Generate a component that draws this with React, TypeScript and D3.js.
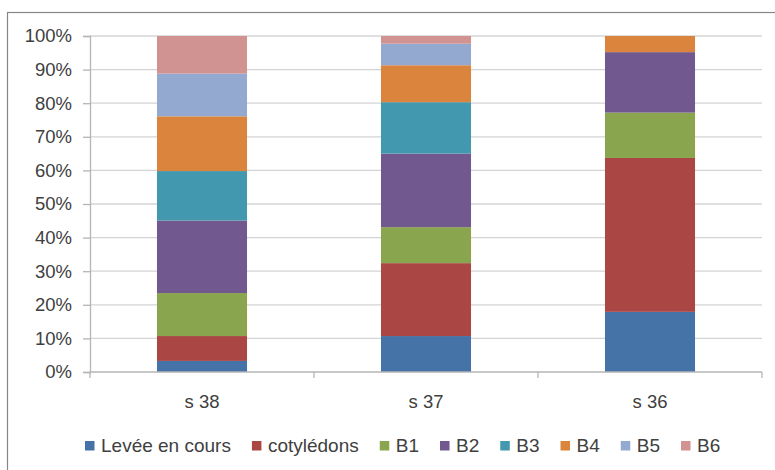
import React, { useEffect, useRef } from "react";
import * as d3 from "d3";

const categories = ["s 38", "s 37", "s 36"];
const seriesNames = ["Levée en cours", "cotylédons", "B1", "B2", "B3", "B4", "B5", "B6"];
const seriesColors = ["#4572A7", "#AA4643", "#89A54E", "#71588F", "#4198AF", "#DB843D", "#93A9CF", "#D19392"];
// values (%) per series, in category order s 38, s 37, s 36
const levee = [3.3, 10.7, 17.9];
const cotyledons = [7.4, 21.7, 45.8];
const b1 = [12.8, 10.7, 13.5];
const b2 = [21.6, 21.9, 18.0];
const b3 = [14.7, 15.3, 0];
const b4 = [16.3, 11.0, 4.8];
const b5 = [12.7, 6.4, 0];
const b6 = [11.2, 2.3, 0];
const seriesValues = [levee, cotyledons, b1, b2, b3, b4, b5, b6];
const yTicks = [0, 10, 20, 30, 40, 50, 60, 70, 80, 90, 100];

const W = 775;
const H = 470;
const FONT = "'Liberation Sans', Arial, sans-serif";

export default function App() {
  const ref = useRef<SVGSVGElement | null>(null);

  useEffect(() => {
    const svg = d3.select(ref.current);
    svg.selectAll("*").remove();

    const x = d3.scaleBand<string>().domain(categories).range([90, 762]).paddingInner(0.598).paddingOuter(0.299);
    const y = d3.scaleLinear().domain([0, 100]).range([372, 36]);

    // border
    svg.append("rect").attr("x", 7.5).attr("y", 12.5).attr("width", 900).attr("height", 600)
      .attr("fill", "#fff").attr("stroke", "#868686").attr("stroke-width", 1.2);

    // gridlines
    svg.append("g").selectAll("line").data(yTicks.filter(t => t > 0)).join("line")
      .attr("x1", 90).attr("x2", 762).attr("y1", d => y(d)).attr("y2", d => y(d))
      .attr("stroke", "#d4d4d4").attr("stroke-width", 1.3);

    // stacked data
    const table = categories.map((c, i) => {
      const row: any = { cat: c };
      seriesNames.forEach((s, j) => { row[s] = seriesValues[j][i]; });
      return row;
    });
    const stack = d3.stack<any>().keys(seriesNames)(table);
    svg.append("g").selectAll("g").data(stack).join("g")
      .attr("fill", (_, i) => seriesColors[i])
      .selectAll("rect").data(d => d).join("rect")
      .attr("x", d => x(d.data.cat) as number)
      .attr("width", x.bandwidth())
      .attr("y", d => y(d[1]))
      .attr("height", d => Math.max(0, y(d[0]) - y(d[1])));

    // y axis
    const ya = svg.append("g").attr("transform", "translate(90,0)")
      .call(d3.axisLeft(y).tickValues(yTicks).tickSize(7).tickPadding(11).tickFormat(d => `${d}%`));
    ya.select(".domain").attr("stroke", "#b5b5b5").attr("stroke-width", 1.3);
    ya.selectAll(".tick line").attr("stroke", "#b5b5b5").attr("stroke-width", 1.3);
    ya.selectAll("text").attr("font-family", FONT).attr("font-size", 18.5).attr("fill", "#404040");

    // x axis
    const xg = svg.append("g");
    xg.append("line").attr("x1", 90).attr("x2", 762).attr("y1", 372).attr("y2", 372)
      .attr("stroke", "#b5b5b5").attr("stroke-width", 1.3);
    const bounds = [90, ...categories.map(c => (x(c) as number) + x.bandwidth() + x.step() * 0.299)];
    xg.selectAll("line.tk").data(bounds).join("line").attr("class", "tk")
      .attr("x1", d => d).attr("x2", d => d).attr("y1", 372).attr("y2", 378)
      .attr("stroke", "#b5b5b5").attr("stroke-width", 1.3);
    xg.selectAll("text").data(categories).join("text")
      .attr("x", d => (x(d) as number) + x.bandwidth() / 2).attr("y", 408)
      .attr("text-anchor", "middle").attr("font-family", FONT).attr("font-size", 18.5).attr("fill", "#404040")
      .text(d => d);

    // legend
    const lg = svg.append("g");
    let cx = 85;
    seriesNames.forEach((s, i) => {
      lg.append("rect").attr("x", cx).attr("y", 441).attr("width", 9.5).attr("height", 9.5).attr("fill", seriesColors[i]);
      const t = lg.append("text").attr("x", cx + 16).attr("y", 452).attr("font-family", FONT)
        .attr("font-size", 19).attr("fill", "#404040").text(s);
      const w = (t.node() as SVGTextElement).getComputedTextLength();
      cx += 16 + w + 21;
    });
  }, []);

  return (
    <svg ref={ref} width={W} height={H} style={{ position: "absolute", left: 0, top: 0, background: "#fff" }} />
  );
}
